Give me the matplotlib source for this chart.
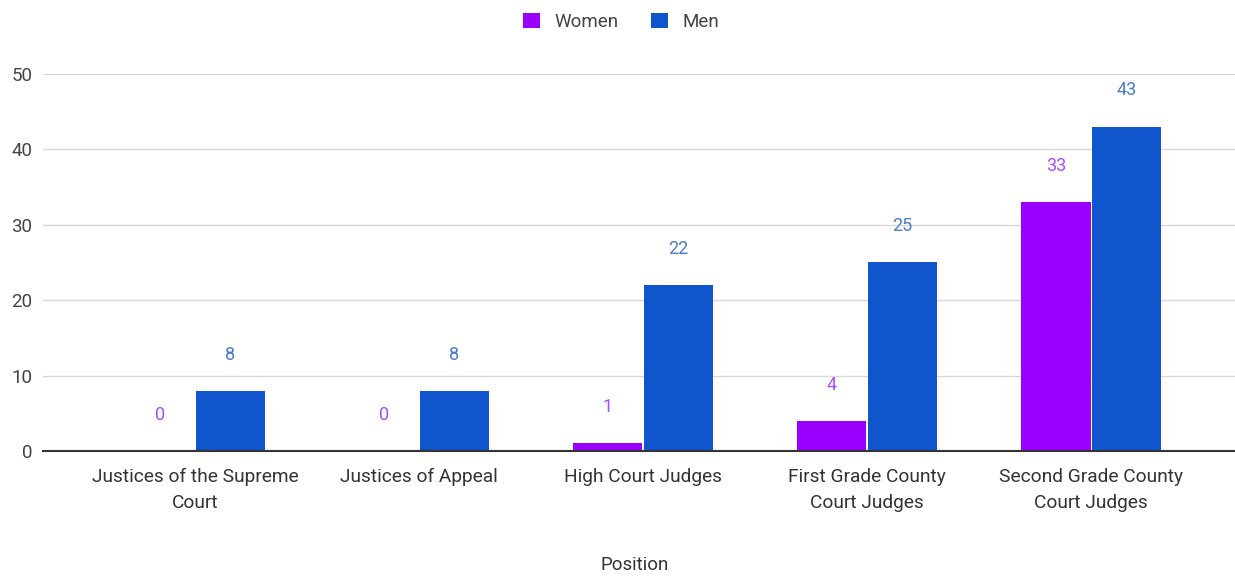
import matplotlib
matplotlib.use("Agg")
import matplotlib.pyplot as plt
import numpy as np

categories = ["Justices of the Supreme\nCourt", "Justices of Appeal", "High Court Judges",
              "First Grade County\nCourt Judges", "Second Grade County\nCourt Judges"]
women = [0, 0, 1, 4, 33]
men = [8, 8, 22, 25, 43]
series_names = ["Women", "Men"]
yticks = [0, 10, 20, 30, 40, 50]

plt.rcParams['font.family'] = ['Roboto', 'DejaVu Sans']

fig = plt.figure(figsize=(12.35, 5.76), dpi=100)
ax = fig.add_axes([0.035, 0.217, 0.965, 0.655])

x = np.arange(len(categories))
w = 0.31
off = 0.158
c_w, c_m = "#9900ff", "#1155cc"
bw = ax.bar(x - off, women, w, color=c_w, label=series_names[0], zorder=3)
bm = ax.bar(x + off, men, w, color=c_m, label=series_names[1], zorder=3)

for xi, v in zip(x - off, women):
    ax.annotate(str(v), (xi, v), xytext=(0, 26), textcoords="offset points",
                ha="center", va="center", color="#a64dff", fontsize=13)
for xi, v in zip(x + off, men):
    ax.annotate(str(v), (xi, v), xytext=(0, 26), textcoords="offset points",
                ha="center", va="center", color="#4a7bc8", fontsize=13)

ax.set_xlim(-0.678, 4.642)
ax.set_ylim(0, 50)
ax.set_yticks(yticks)
ax.set_xticks(x)
ax.set_xticklabels(categories, fontsize=13.8, color="#333333", linespacing=1.6)
ax.tick_params(axis='y', labelsize=13.5, colors="#444444", length=0, pad=8)
ax.tick_params(axis='x', length=0, pad=12)
ax.grid(axis='y', color="#d9d9d9", linewidth=1, zorder=0)
for s in ["top", "right", "left"]:
    ax.spines[s].set_visible(False)
ax.spines["bottom"].set_color("#333333")
ax.spines["bottom"].set_linewidth(1.5)
ax.spines["bottom"].set_zorder(4)

fig.text(0.514, 1 - 565 / 576, "Position", fontsize=13.5, color="#333333",
         ha="center", va="center")

fig.legend(handles=[bw, bm], labels=series_names, loc="center", bbox_to_anchor=(0.503, 0.962),
           ncol=2, frameon=False, fontsize=13.5, handlelength=0.9, handleheight=0.9,
           columnspacing=1.7, handletextpad=0.8, labelcolor="#444444")

fig.savefig("out.png", dpi=100, facecolor="white")
